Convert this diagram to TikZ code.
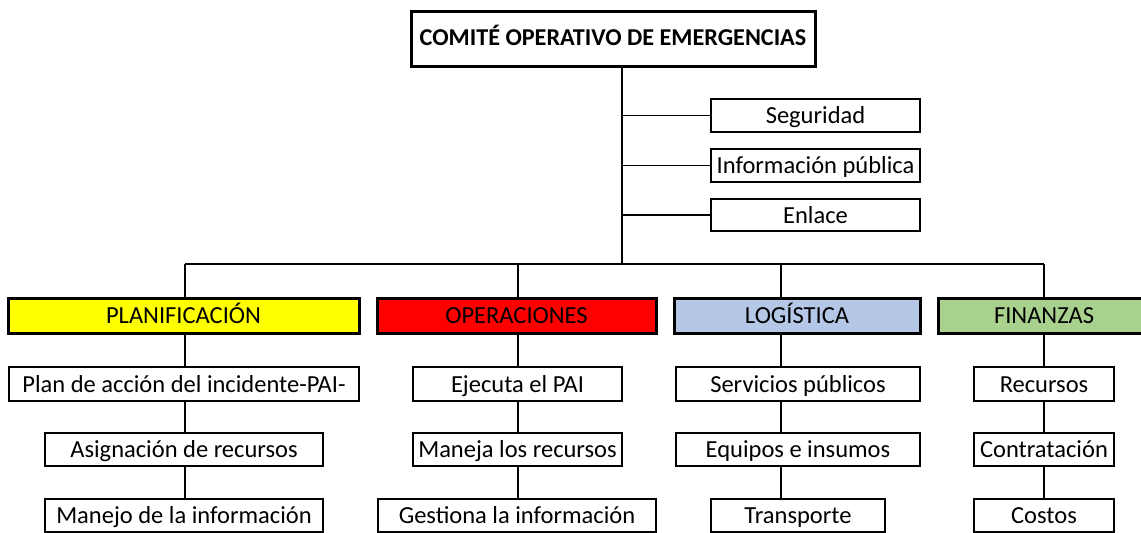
\documentclass[tikz,border=0pt]{standalone}
\usepackage{fontspec}
\setmainfont{Carlito}
\definecolor{cyel}{RGB}{255,255,0}
\definecolor{cred}{RGB}{255,0,0}
\definecolor{cblu}{RGB}{180,199,231}
\definecolor{cgrn}{RGB}{169,209,142}
\begin{document}
\begin{tikzpicture}[x=1pt,y=-1pt,
  box/.style={draw=black, line width=1.4pt, inner sep=0pt, outer sep=0pt, fill=white,
    font=\fontsize{24.5}{26}\selectfont, text height=20pt, text depth=4pt},
  head/.style={box, line width=3pt},
  conn/.style={draw=black, line width=1.5pt}]
\useasboundingbox (0,0) rectangle (1141,533);
% top
\node[head, minimum width=404pt, minimum height=55pt, font=\fontsize{24.2}{26}\selectfont\bfseries, text height=18pt, text depth=4pt] (cope) at (613,38.5) {COMITÉ OPERATIVO DE EMERGENCIAS};
\node[box, minimum width=209pt, minimum height=33pt] (seg) at (815.5,115.5) {Seguridad};
\node[box, minimum width=209pt, minimum height=33pt] (info) at (815.5,165.5) {Información pública};
\node[box, minimum width=209pt, minimum height=32pt] (enl) at (815.5,215) {Enlace};
\coordinate (trunk) at (622,264);
\coordinate (bl) at (185,264);
\coordinate (br) at (1044,264);
% heads
\node[head, fill=cyel, minimum width=351pt, minimum height=35pt] (plan) at (183.5,315.5) {PLANIFICACIÓN};
\node[head, fill=cred, minimum width=279pt, minimum height=35pt] (oper) at (516.5,315.5) {OPERACIONES};
\node[head, fill=cblu, minimum width=246pt, minimum height=35pt] (log) at (797,315.5) {LOGÍSTICA};
\node[head, fill=cgrn, minimum width=212pt, minimum height=35pt] (fin) at (1044,315.5) {FINANZAS};
\coordinate (cP) at (185,264);
\coordinate (cO) at (518,264);
\coordinate (cL) at (781,264);
\coordinate (cF) at (1044,264);
% planificacion
\node[box, minimum width=350pt, minimum height=34pt] (p1) at (184,384) {Plan de acción del incidente-PAI-};
\node[box, minimum width=278pt, minimum height=33pt] (p2) at (184,449.5) {Asignación de recursos};
\node[box, minimum width=278pt, minimum height=33pt] (p3) at (184,515.5) {Manejo de la información};
% operaciones
\node[box, minimum width=209pt, minimum height=34pt] (o1) at (517.5,384) {Ejecuta el PAI};
\node[box, minimum width=209pt, minimum height=33pt] (o2) at (517.5,449.5) {Maneja los recursos};
\node[box, minimum width=278pt, minimum height=33pt] (o3) at (517,515.5) {Gestiona la información};
% logistica
\node[box, minimum width=244pt, minimum height=34pt] (l1) at (798,384) {Servicios públicos};
\node[box, minimum width=244pt, minimum height=33pt] (l2) at (798,449.5) {Equipos e insumos};
\node[box, minimum width=174pt, minimum height=33pt] (l3) at (798,515.5) {Transporte};
% finanzas
\node[box, minimum width=140pt, minimum height=34pt] (f1) at (1044,384) {Recursos};
\node[box, minimum width=140pt, minimum height=33pt] (f2) at (1044,449.5) {Contratación};
\node[box, minimum width=140pt, minimum height=33pt] (f3) at (1044,515.5) {Costos};
% connectors
\draw[conn] (cope.south -| trunk) -- (trunk);
\draw[conn] (seg.west -| trunk) -- (seg.west);
\draw[conn] (info.west -| trunk) -- (info.west);
\draw[conn] (enl.west -| trunk) -- (enl.west);
\draw[conn] (bl) -- (br);
\draw[conn] (cP) -- (plan.north -| cP);
\draw[conn] (cO) -- (oper.north -| cO);
\draw[conn] (cL) -- (log.north -| cL);
\draw[conn] (cF) -- (fin.north -| cF);
\draw[conn] (plan.south -| cP) -- (p1.north -| cP);
\draw[conn] (p1.south -| cP) -- (p2.north -| cP);
\draw[conn] (p2.south -| cP) -- (p3.north -| cP);
\draw[conn] (oper.south -| cO) -- (o1.north -| cO);
\draw[conn] (o1.south -| cO) -- (o2.north -| cO);
\draw[conn] (o2.south -| cO) -- (o3.north -| cO);
\draw[conn] (log.south -| cL) -- (l1.north -| cL);
\draw[conn] (l1.south -| cL) -- (l2.north -| cL);
\draw[conn] (l2.south -| cL) -- (l3.north -| cL);
\draw[conn] (fin.south -| cF) -- (f1.north -| cF);
\draw[conn] (f1.south -| cF) -- (f2.north -| cF);
\draw[conn] (f2.south -| cF) -- (f3.north -| cF);
\end{tikzpicture}
\end{document}
